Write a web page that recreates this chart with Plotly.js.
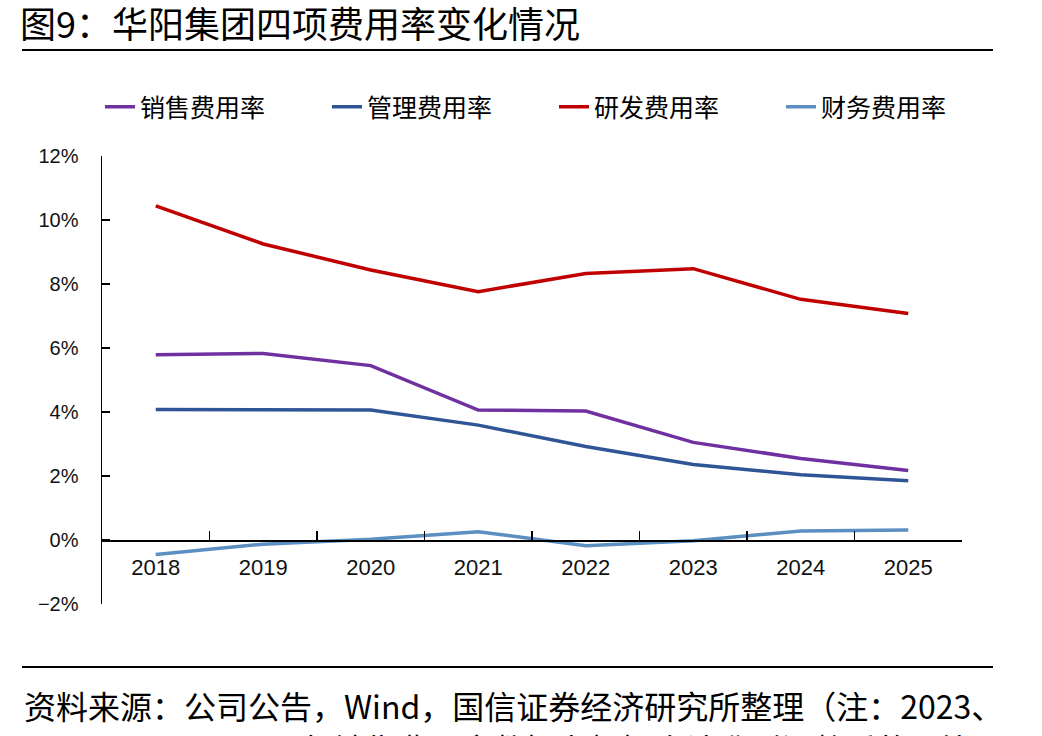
<!DOCTYPE html>
<html>
<head>
<meta charset="utf-8">
<script src="https://cdn.plot.ly/plotly-3.0.1.min.js"></script>
<style>html,body{margin:0;padding:0;background:#fff;}#chart{width:1042px;height:736px;}</style>
</head>
<body>
<div id="chart"></div>
<script>
const years = ['2018','2019','2020','2021','2022','2023','2024','2025'];
const sellingRate = [5.79, 5.83, 5.45, 4.06, 4.03, 3.05, 2.55, 2.17];
const adminRate   = [4.08, 4.08, 4.06, 3.59, 2.92, 2.36, 2.04, 1.85];
const rdRate      = [10.44, 9.25, 8.44, 7.76, 8.33, 8.48, 7.52, 7.08];
const financeRate = [-0.45, -0.13, 0.02, 0.26, -0.18, -0.02, 0.28, 0.31];
const seriesNames = ['销售费用率','管理费用率','研发费用率','财务费用率'];
const colors = ['#7030A0','#2F5597','#C00000','#5B8EC1'];
const yMin = -2, yMax = 12;

const cjk = '"Noto Sans CJK SC", "Noto Sans", sans-serif';
const latin = '"Liberation Sans", Arial, sans-serif';

const allSeries = [sellingRate, adminRate, rdRate, financeRate];
const legendIds = ['legend', 'legend', 'legend2', 'legend2'];
const traces = allSeries.map((vals, i) => ({
  type: 'scatter', mode: 'lines', x: years, y: vals, name: seriesNames[i],
  legend: legendIds[i],
  line: {color: colors[i], width: 3.5},
  hoverinfo: 'skip'
}));

const legendBase = {
  orientation: 'h',
  xref: 'container', yref: 'container',
  xanchor: 'left', y: 1 - 107/736, yanchor: 'middle',
  font: {family: cjk, size: 25, color: '#000'},
  entrywidth: 182, entrywidthmode: 'pixels',
  bgcolor: 'rgba(0,0,0,0)', itemclick: false
};

const layout = {
  width: 1042, height: 736,
  margin: {l: 102, r: 80, t: 156, b: 132},
  paper_bgcolor: '#fff', plot_bgcolor: '#fff',
  showlegend: true,
  title: {
    text: '图9：华阳集团四项费用率变化情况',
    font: {family: cjk, size: 36, color: '#000'},
    xref: 'container', yref: 'container',
    x: 20/1042, xanchor: 'left', y: 1 - 25/736, yanchor: 'middle'
  },
  legend: Object.assign({}, legendBase, {x: 100/1042}),
  legend2: Object.assign({}, legendBase, {x: 554/1042}),
  xaxis: {
    type: 'category', range: [-0.5, years.length - 0.5],
    anchor: 'free', position: (0 - yMin) / (yMax - yMin),
    showline: true, linecolor: '#000', linewidth: 1.5,
    ticks: 'inside', ticklen: 9, tickwidth: 1.5, tickcolor: '#000',
    tickson: 'boundaries',
    showgrid: false, zeroline: false,
    tickfont: {family: latin, size: 22, color: '#111'},
    ticklabelstandoff: 7
  },
  yaxis: {
    range: [yMin, yMax], dtick: 2, ticksuffix: '%',
    showline: true, linecolor: '#000', linewidth: 1.5,
    ticks: 'inside', ticklen: 8, tickwidth: 1.5, tickcolor: '#000',
    showgrid: false, zeroline: false,
    tickfont: {family: latin, size: 20, color: '#111'},
    ticklabelstandoff: 18
  },
  shapes: [
    {type: 'line', xref: 'paper', yref: 'paper', x0: (22-102)/860, x1: (993-102)/860,
     y0: (604-50)/448, y1: (604-50)/448, line: {color: '#000', width: 2}},
    {type: 'line', xref: 'paper', yref: 'paper', x0: (22-102)/860, x1: (993-102)/860,
     y0: (604-667)/448, y1: (604-667)/448, line: {color: '#000', width: 2}}
  ],
  annotations: [
    {xref: 'paper', yref: 'paper', x: (22-102)/860, xanchor: 'left',
     y: (604-705)/448, yanchor: 'middle', showarrow: false,
     text: '资料来源：公司公告，Wind，国信证券经济研究所整理（注：2023、',
     font: {family: cjk, size: 32, color: '#000'}},
    {xref: 'paper', yref: 'paper', x: (22-102)/860, xanchor: 'left',
     y: (604-748)/448, yanchor: 'middle', showarrow: false,
     text: '2024、2024、2025年销售费用率数据为根据会计准则调整后的可比',
     font: {family: cjk, size: 32, color: '#000'}}
  ]
};

Plotly.newPlot('chart', traces, layout, {displayModeBar: false, staticPlot: true});
</script>
</body>
</html>
